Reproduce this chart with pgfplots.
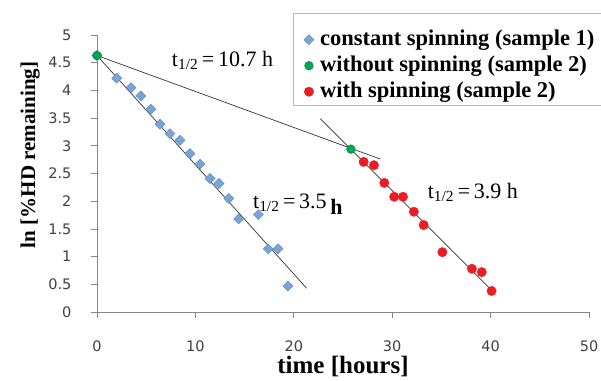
\documentclass[border=0pt]{standalone}
\usepackage{fontspec}
\setmainfont{Liberation Serif}
\newfontfamily\tickfont{DejaVu Sans}
\usepackage{pgfplots}
\pgfplotsset{compat=1.18}
\definecolor{axgray}{RGB}{134,134,134}
\definecolor{cblue}{RGB}{120,165,215}
\definecolor{cblueedge}{RGB}{85,125,170}
\definecolor{cgreen}{RGB}{0,166,80}
\definecolor{cred}{RGB}{237,28,36}
\begin{document}
\begin{tikzpicture}[x=1pt,y=1pt]
\useasboundingbox (0,0) rectangle (601,380);
\begin{axis}[
  at={(97pt,68pt)}, anchor=south west,
  scale only axis, width=492pt, height=277pt,
  xmin=0, xmax=50, ymin=0, ymax=5,
  axis x line*=bottom, axis y line*=left,
  axis line style={axgray, line width=0.8pt, -},
  xtick={0,10,...,50}, ytick={0,0.5,...,5},
  tick align=outside, major tick length=6pt,
  tick style={axgray, line width=0.8pt},
  /pgf/number format/assume math mode=true,
  tick label style={font=\tickfont\fontsize{14.5}{14.5}\selectfont, text=black!75},
  xticklabel style={yshift=-19pt},
  yticklabel style={xshift=-16pt},
  xlabel={\bfseries time [hours]},
  ylabel={\bfseries ln [\%HD remaining]},
  xlabel style={font=\fontsize{25}{25}\selectfont, at={(axis description cs:0.5,0)}, anchor=base, yshift=-61pt},
  ylabel style={font=\fontsize{21}{21}\selectfont, at={(axis description cs:0,0.567)}, anchor=base, yshift=62pt},
  clip=false,
  legend style={at={(axis description cs:0.42,1.0307)}, anchor=north west, draw=none, fill=none,
    font=\bfseries\fontsize{22.5}{22.5}\selectfont, inner sep=0pt,
    nodes={text height=17pt, text depth=6pt, inner ysep=1.5pt, inner xsep=2pt},
    row sep=0pt, column sep=4pt, legend cell align=left},
  legend image code/.code={\draw[#1] plot coordinates {(0pt,0pt)};},
]
% legend frame
\draw[axgray!60, line width=0.8pt] (axis description cs:0.3984,1.0794) rectangle (axis description cs:1.035,0.747);
% fit lines
\addplot[black!80, line width=0.7pt, forget plot] coordinates {(0,4.63) (21.3,0.43)};
\addplot[black!80, line width=0.7pt, forget plot] coordinates {(0,4.63) (28.8,2.76)};
\addplot[black!80, line width=0.7pt, forget plot] coordinates {(22.7,3.49) (40.0,0.41)};
% data
\addplot[only marks, mark=square*, mark size=3.6pt, mark options={rotate=45, fill=cblue, draw=cblueedge, line width=0.3pt}]
 coordinates {(0,4.63) (2.0,4.22) (3.46,4.05) (4.45,3.90) (5.46,3.66) (6.4,3.39) (7.42,3.22) (8.43,3.10)
 (9.45,2.86) (10.47,2.67) (11.48,2.41) (12.4,2.32) (13.4,2.05) (14.4,1.68) (16.4,1.76) (17.4,1.14)
 (18.4,1.14) (19.4,0.47)};
\addlegendentry{constant spinning (sample 1)}
\addplot[only marks, mark=*, mark size=4.4pt, mark options={fill=cgreen, draw=cgreen!70!black, line width=0.3pt}]
 coordinates {(0,4.63) (25.8,2.94)};
\addlegendentry{without spinning (sample 2)}
\addplot[only marks, mark=*, mark size=4.7pt, mark options={fill=cred, draw=cred}]
 coordinates {(27.1,2.71) (28.15,2.65) (29.2,2.33) (30.2,2.08) (31.1,2.08) (32.2,1.81) (33.2,1.57)
 (35.1,1.08) (38.1,0.78) (39.1,0.72) (40.1,0.38)};
\addlegendentry{with spinning (sample 2)}
% annotations
\node[anchor=base west, font=\fontsize{22}{22}\selectfont, inner sep=0pt] at (axis cs:7.6,4.43) {t\textsubscript{1/2}\,=\,10.7 h};
\node[anchor=base west, font=\fontsize{22}{22}\selectfont, inner sep=0pt] at (axis cs:15.85,1.87) {t\textsubscript{1/2}\,=\,3.5\,\raisebox{-6pt}{\bfseries h}};
\node[anchor=base west, font=\fontsize{22}{22}\selectfont, inner sep=0pt] at (axis cs:33.6,2.05) {t\textsubscript{1/2}\,=\,3.9 h};
\end{axis}
\end{tikzpicture}
\end{document}
